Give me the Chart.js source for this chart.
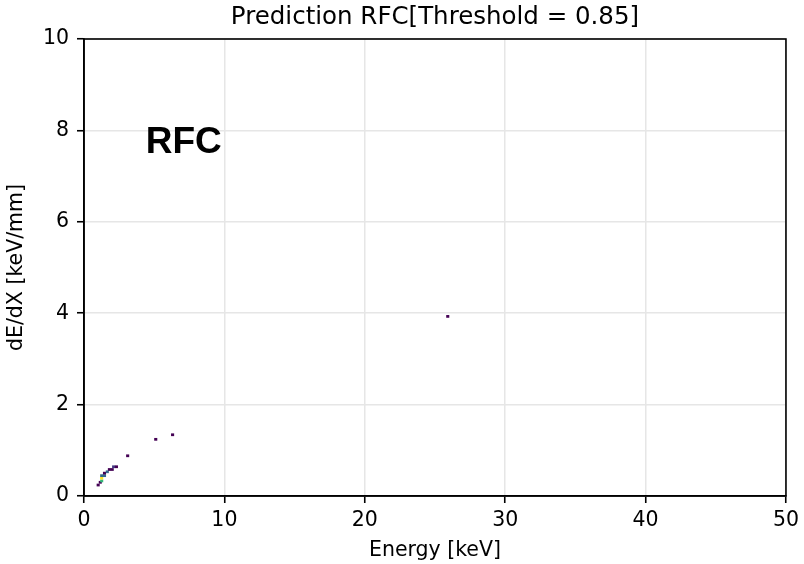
<!DOCTYPE html>
<html lang="en">
<head>
<meta charset="UTF-8">
<script src="https://cdn.jsdelivr.net/npm/chart.js@4.4.0/dist/chart.umd.min.js"></script>
<title>Prediction RFC</title>
</head>
<body style="margin:0; background:#fff;">
<canvas id="myChart" width="804" height="564"></canvas>
<script>
// 2D histogram cells: lower-left corner (keV, keV/mm) and count
const cellX = [0.9, 1.05, 1.15, 1.15, 1.15, 1.35, 1.35, 1.55, 1.7, 1.9, 2.0, 2.2, 3.0, 5.0, 6.2, 25.8];
const cellY = [0.21, 0.27, 0.30, 0.36, 0.415, 0.415, 0.47, 0.50, 0.55, 0.55, 0.61, 0.61, 0.85, 1.21, 1.31, 3.90];
const cellCount = [1, 1, 4, 6, 3, 3, 1, 3, 1, 1, 2, 1, 1, 1, 1, 1];
const binW = 0.22;
const binH = 0.06;
const xTicks = [0, 10, 20, 30, 40, 50];
const yTicks = [0, 2, 4, 6, 8, 10];

const viridis = ['#440154', '#443983', '#31688e', '#21918c', '#35b779', '#90d743', '#fde725'];
function cellColor(v) {
    const t = (v - 1) / 5;
    return viridis[Math.round(t * (viridis.length - 1))];
}

const cellsPlugin = {
    id: 'cells',
    beforeDatasetsDraw(chart) {
        const ctx = chart.ctx, xs = chart.scales.x, ys = chart.scales.y;
        ctx.save();
        for (let i = 0; i < cellX.length; i++) {
            const x0 = xs.getPixelForValue(cellX[i]);
            const x1 = xs.getPixelForValue(cellX[i] + binW);
            const y0 = ys.getPixelForValue(cellY[i]);
            const y1 = ys.getPixelForValue(cellY[i] + binH);
            ctx.fillStyle = cellColor(cellCount[i]);
            ctx.fillRect(x0, y1, Math.max(x1 - x0, 1), Math.max(y0 - y1, 1));
        }
        // model label
        ctx.fillStyle = '#000';
        ctx.font = 'bold 37px "Liberation Sans", Arial, sans-serif';
        ctx.textBaseline = 'alphabetic';
        ctx.fillText('RFC', xs.getPixelForValue(4.4), ys.getPixelForValue(7.5));
        ctx.restore();
    },
    afterDraw(chart) {
        const ctx = chart.ctx, a = chart.chartArea;
        ctx.save();
        ctx.strokeStyle = '#000';
        ctx.lineWidth = 1.6;
        ctx.strokeRect(a.left, a.top, a.right - a.left, a.bottom - a.top);
        ctx.fillStyle = '#000';
        ctx.font = '24.5px "DejaVu Sans", sans-serif';
        ctx.textAlign = 'center';
        ctx.textBaseline = 'middle';
        ctx.fillText('Prediction RFC[Threshold = 0.85]', (a.left + a.right) / 2, 18);
        ctx.restore();
    }
};

const tickFont = { family: '"DejaVu Sans", sans-serif', size: 20.5 };

new Chart(document.getElementById('myChart').getContext('2d'), {
    type: 'scatter',
    data: {
        datasets: [{
            data: cellX.map((x, i) => ({ x: x + binW / 2, y: cellY[i] + binH / 2 })),
            pointRadius: 0
        }]
    },
    options: {
        responsive: false,
        animation: false,
        layout: { padding: { top: 39, right: 17, left: 0, bottom: 0 } },
        plugins: { legend: { display: false }, tooltip: { enabled: false } },
        scales: {
            x: {
                type: 'linear', min: 0, max: 50,
                afterBuildTicks: s => { s.ticks = xTicks.map(v => ({ value: v })); },
                afterFit: s => { s.height = 68; },
                ticks: { color: '#000', font: tickFont, padding: 5, maxRotation: 0 },
                grid: { color: '#e6e6e6', lineWidth: 1.5, tickColor: '#000', tickLength: 7, tickWidth: 1.6 },
                border: { color: '#000', width: 1.6 },
                title: { display: true, text: 'Energy [keV]', color: '#000', font: tickFont, padding: { top: 0, bottom: 1 } }
            },
            y: {
                type: 'linear', min: 0, max: 10,
                afterBuildTicks: s => { s.ticks = yTicks.map(v => ({ value: v })); },
                afterFit: s => { s.width = 84; },
                ticks: { color: '#000', font: tickFont, padding: 8 },
                grid: { color: '#e6e6e6', lineWidth: 1.5, tickColor: '#000', tickLength: 7, tickWidth: 1.6 },
                border: { color: '#000', width: 1.6 },
                title: { display: true, text: 'dE/dX [keV/mm]', color: '#000', font: tickFont, padding: { top: 4, bottom: 0 } }
            }
        }
    },
    plugins: [cellsPlugin]
});
</script>
</body>
</html>
